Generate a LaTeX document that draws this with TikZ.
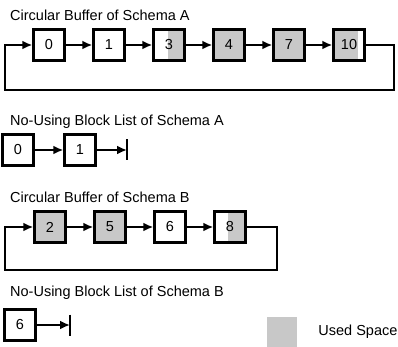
\documentclass[tikz,border=0pt]{standalone}
\usepackage{fontspec}
\setmainfont{Liberation Sans}
\usepackage{xcolor}
\usetikzlibrary{arrows.meta, positioning, calc, backgrounds}
\definecolor{usedgray}{RGB}{200, 200, 200}

\begin{document}
\begin{tikzpicture}[
    x=1pt, y=1pt,
    node distance=26.6pt,
    box/.style={draw, line width=2.4pt, minimum width=31pt, minimum height=31pt,
                inner sep=0pt, font=\fontsize{14.5}{17}\selectfont},
    used/.style={fill=usedgray},
    arrow/.style={-{Latex[length=10pt, width=9pt]}, line width=2.4pt},
    link/.style={line width=2.4pt},
    title/.style={anchor=west, inner sep=0pt, font=\fontsize{14.5}{17}\selectfont}
]
    \useasboundingbox (0,0) rectangle (398,-347);

    % circular buffer, schema A
    \node[title] (titleA) at (10,-15) {Circular Buffer of Schema A};
    \node[box] (a0) at (49,-45) {0};
    \node[box, right=of a0] (a1) {1};
    \node[box, right=of a1] (a3) {3};
    \node[box, used, right=of a3] (a4) {4};
    \node[box, used, right=of a4] (a7) {7};
    \node[box, right=of a7] (a10) {10};

    \draw[arrow] (a0) -- (a1);
    \draw[arrow] (a1) -- (a3);
    \draw[arrow] (a3) -- (a4);
    \draw[arrow] (a4) -- (a7);
    \draw[arrow] (a7) -- (a10);
    \draw[arrow] (a10.east) -- ++(28.3,0) -- ++(0,-45)
        -| ($(a0.west)+(-27.3,0)$) -- (a0.west);

    % no-using block list, schema A
    \node[title] (titleNA) at (10,-122) {No-Using Block List of Schema A};
    \node[box] (na0) at (18,-150) {0};
    \node[box, right=28.6pt of na0] (na1) {1};
    \coordinate[right=30.3pt of na1] (endA);

    \draw[arrow] (na0) -- (na1);
    \draw[arrow] (na1) -- (endA);
    \draw[link] ([yshift=10.5]endA) -- ([yshift=-10.5]endA);

    % circular buffer, schema B
    \node[title] (titleB) at (10,-197) {Circular Buffer of Schema B};
    \node[box, used] (b2) at (50,-227) {2};
    \node[box, used, right=of b2] (b5) {5};
    \node[box, right=of b5] (b6) {6};
    \node[box, right=of b6] (b8) {8};

    \draw[arrow] (b2) -- (b5);
    \draw[arrow] (b5) -- (b6);
    \draw[arrow] (b6) -- (b8);
    \draw[arrow] (b8.east) -- ++(30.3,0) -- ++(0,-43)
        -| ($(b2.west)+(-28.3,0)$) -- (b2.west);

    % no-using block list, schema B
    \node[title] (titleNB) at (10,-293) {No-Using Block List of Schema B};
    \node[box] (nb6) at (20,-325) {6};
    \coordinate[right=33.3pt of nb6] (endB);

    \draw[arrow] (nb6) -- (endB);
    \draw[link] ([yshift=10.5]endB) -- ([yshift=-10.5]endB);

    % partly used blocks
    \begin{scope}[on background layer]
        \fill[usedgray] ($(a3.south west)!0.46!(a3.south east)$) rectangle (a3.north east);
        \fill[usedgray] (a10.south west) rectangle ($(a10.north west)!0.78!(a10.north east)$);
        \fill[usedgray] ($(b8.south west)!0.44!(b8.south east)$) rectangle (b8.north east);
    \end{scope}

    % legend
    \node[used, minimum size=30pt, inner sep=0pt] (usedkey) at (282,-332) {};
    \node[title, right=21pt of usedkey] (usedlabel) {Used Space};
\end{tikzpicture}
\end{document}
